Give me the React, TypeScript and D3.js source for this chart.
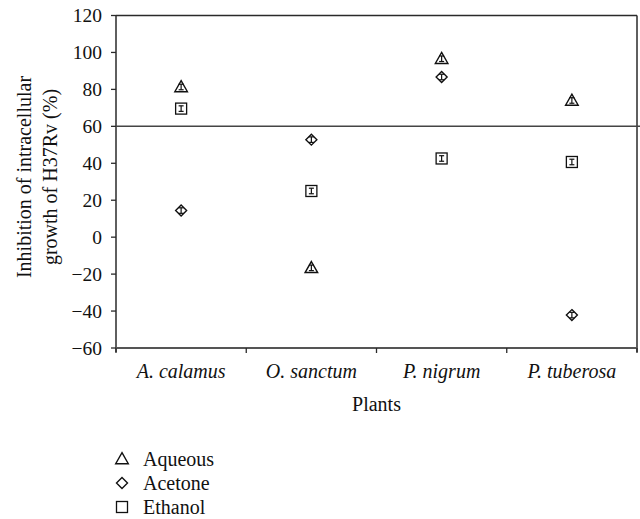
import React from "react";
import * as d3 from "d3";

const plants = ["A. calamus", "O. sanctum", "P. nigrum", "P. tuberosa"];
const aqueous = [81.3, -16.6, 96.6, 74.0];
const acetone = [14.4, 52.8, 86.7, -42.2];
const ethanol = [69.6, 25.0, 42.6, 40.7];
const aqueousErr = [1.5, 1.5, 1.5, 1.5];
const acetoneErr = [1.5, 1.5, 1.5, 1.5];
const ethanolErr = [1.5, 1.5, 1.5, 1.5];
const yTicks = [-60, -40, -20, 0, 20, 40, 60, 80, 100, 120];
const refValue = 60;
const seriesNames = ["Aqueous", "Acetone", "Ethanol"];

const W = 640, H = 519;
const left = 116, right = 637, top = 15.5, bottom = 348;
const FONT = "'Times New Roman', 'Liberation Serif', Times, serif";

function Marker({ type, x, y }: { type: string; x: number; y: number }) {
  const stroke = "#111";
  if (type === "triangle") {
    const s = 6.3;
    return <path d={`M${x},${y - s}L${x + s},${y + s * 0.75}L${x - s},${y + s * 0.75}Z`} fill="none" stroke={stroke} strokeWidth={1.4} />;
  }
  if (type === "diamond") {
    const s = 5.5;
    return <path d={`M${x},${y - s}L${x + s},${y}L${x},${y + s}L${x - s},${y}Z`} fill="none" stroke={stroke} strokeWidth={1.4} />;
  }
  const s = 5.5;
  return <rect x={x - s} y={y - s} width={2 * s} height={2 * s} fill="none" stroke={stroke} strokeWidth={1.3} />;
}

export default function App() {
  const x = d3.scaleBand<string>().domain(plants).range([left, right]);
  const y = d3.scaleLinear().domain([-60, 120]).range([bottom, top]);
  const series = [
    { name: "Aqueous", type: "triangle", values: aqueous, err: aqueousErr },
    { name: "Acetone", type: "diamond", values: acetone, err: acetoneErr },
    { name: "Ethanol", type: "square", values: ethanol, err: ethanolErr },
  ];
  const xTickPos = plants.map((p) => x(p)!).concat([right]);
  const axisColor = "#2a2a2a";
  const ts = { fontFamily: FONT };
  return (
    <svg width={W} height={H} style={{ display: "block", position: "absolute", left: 0, top: 0 }}>
      <rect x={0} y={0} width={W} height={H} fill="#fff" />
      {/* frame */}
      <line x1={left} x2={right} y1={top} y2={top} stroke={axisColor} strokeWidth={1.5} />
      <line x1={right} x2={right} y1={top} y2={bottom + 4} stroke={axisColor} strokeWidth={1.5} />
      {/* y axis */}
      <line x1={left} x2={left} y1={top} y2={bottom + 4} stroke={axisColor} strokeWidth={1.5} />
      {yTicks.map((t) => (
        <g key={t}>
          <line x1={left - 5} x2={left} y1={y(t)} y2={y(t)} stroke={axisColor} strokeWidth={1.3} />
          <text style={ts} x={left - 14} y={y(t)} dy="0.35em" textAnchor="end" fontSize={19.5} fill="#111">
            {t < 0 ? "\u2212" + Math.abs(t) : t}
          </text>
        </g>
      ))}
      {/* x axis */}
      <line x1={left} x2={right} y1={bottom} y2={bottom} stroke="#555" strokeWidth={2} />
      {xTickPos.map((p, i) => (
        <line key={i} x1={p} x2={p} y1={bottom} y2={bottom + 5} stroke={axisColor} strokeWidth={1.3} />
      ))}
      {plants.map((p) => (
        <text style={ts} key={p} x={x(p)! + x.bandwidth() / 2} y={378} textAnchor="middle" fontSize={20} fontStyle="italic" fill="#111">
          {p}
        </text>
      ))}
      <text style={ts} x={(left + right) / 2} y={411} textAnchor="middle" fontSize={20} fill="#111">Plants</text>
      {/* y label */}
      <g transform={`translate(31, 177) rotate(-90)`}>
        <text style={ts} x={0} y={0} textAnchor="middle" fontSize={20} fill="#111">Inhibition of intracellular</text>
        <text style={ts} x={0} y={26} textAnchor="middle" fontSize={20} fill="#111">growth of H37Rv (%)</text>
      </g>
      {/* reference line */}
      <line x1={left} x2={W} y1={y(refValue)} y2={y(refValue)} stroke="#444" strokeWidth={1.5} />
      {/* points */}
      {series.map((s) =>
        s.values.map((v, i) => {
          const cx = x(plants[i])! + x.bandwidth() / 2;
          const cy = y(v);
          const y1 = y(v + s.err[i]);
          const y2 = y(v - s.err[i]);
          return (
            <g key={s.name + i}>
              <Marker type={s.type} x={cx} y={cy} />
              <line x1={cx} x2={cx} y1={y1} y2={y2} stroke="#111" strokeWidth={1.2} />
              <line x1={cx - 2.5} x2={cx + 2.5} y1={y1} y2={y1} stroke="#111" strokeWidth={1.2} />
              <line x1={cx - 2.5} x2={cx + 2.5} y1={y2} y2={y2} stroke="#111" strokeWidth={1.2} />
            </g>
          );
        })
      )}
      {/* legend */}
      {seriesNames.map((n, i) => {
        const ly = 459 + i * 24;
        return (
          <g key={n}>
            <Marker type={series[i].type} x={122} y={ly} />
            <text style={ts} x={143} y={ly} dy="0.35em" fontSize={20} fill="#111">{n}</text>
          </g>
        );
      })}
    </svg>
  );
}
